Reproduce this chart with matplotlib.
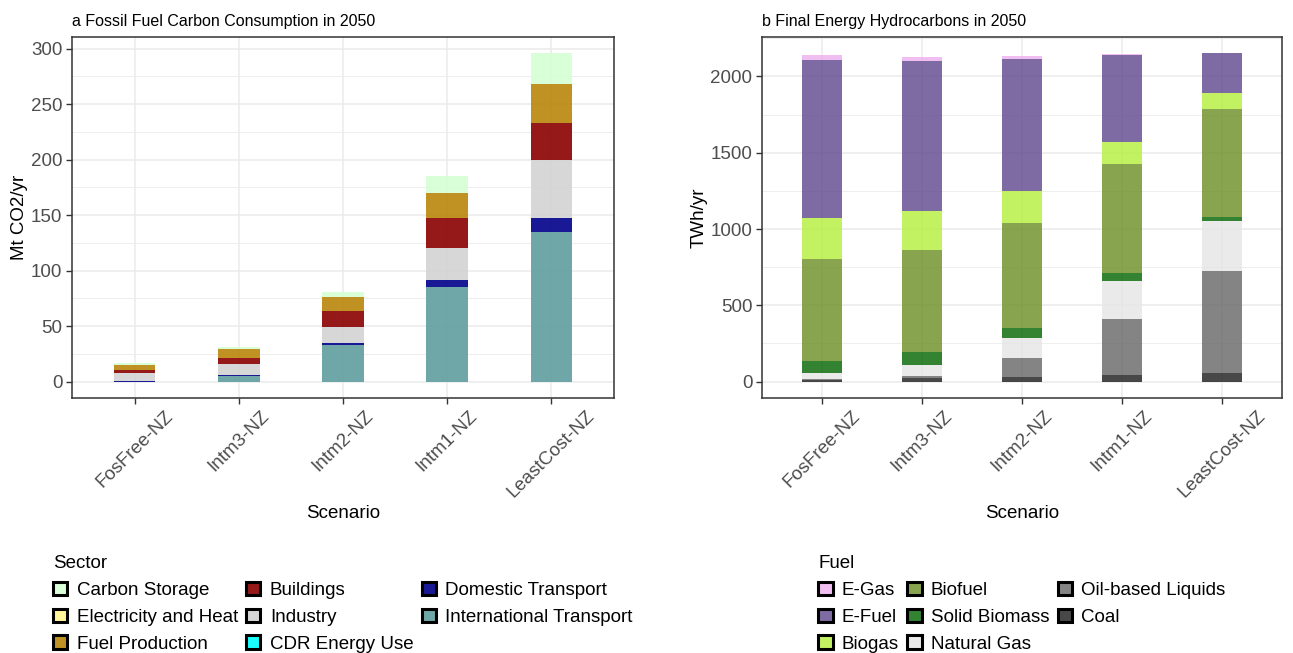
import matplotlib
matplotlib.use('Agg')
import matplotlib.pyplot as plt
from matplotlib.patches import Patch
from matplotlib.ticker import MultipleLocator

plt.rcParams['font.family'] = ['Liberation Sans', 'DejaVu Sans']

scenarios = ['FosFree-NZ', 'Intm3-NZ', 'Intm2-NZ', 'Intm1-NZ', 'LeastCost-NZ']

# panel a: fossil carbon by sector (Mt CO2/yr), legend order = top of stack first
sectors = ['Carbon Storage', 'Electricity and Heat', 'Fuel Production', 'Buildings',
           'Industry', 'CDR Energy Use', 'Domestic Transport', 'International Transport']
carbon_storage = [1.2, 2.0, 4.6, 14.9, 27.5]
elec_heat = [0.3, 0.6, 0.3, 0.2, 0.3]
fuel_production = [5.1, 7.7, 12.7, 22.9, 34.8]
buildings = [2.7, 5.6, 14.5, 26.3, 33.2]
industry = [6.5, 10.0, 14.5, 29.3, 52.3]
cdr_energy = [0.0, 0.0, 0.0, 0.0, 0.0]
domestic_transport = [0.8, 0.4, 1.2, 6.0, 12.7]
international_transport = [0.0, 5.3, 33.2, 85.5, 135.0]
sector_colors = ['#d4ffd4', '#fff68f', '#b8860b', '#8b0000',
                 '#d3d3d3', '#00ffff', '#00008b', '#5f9ea0']

# panel b: final energy hydrocarbons by fuel (TWh/yr)
fuels = ['E-Gas', 'E-Fuel', 'Biogas', 'Biofuel', 'Solid Biomass',
         'Natural Gas', 'Oil-based Liquids', 'Coal']
e_gas = [31, 24, 18, 7, 0]
e_fuel = [1033, 985, 864, 568, 258]
biogas = [271, 256, 213, 147, 108]
biofuel = [665, 671, 686, 708, 706]
solid_biomass = [81, 79, 64, 53, 24]
natural_gas = [39, 75, 134, 254, 333]
oil_liquids = [10, 15, 125, 362, 667]
coal = [8, 22, 28, 46, 55]
fuel_colors = ['#eeaeee', '#5e468e', '#b3ee3a', '#6b8e23',
               '#006400', '#e5e5e5', '#666666', '#1a1a1a']

FS = 13.5
W, H = 1293, 653


def stacked_panel(ax, names, series, colors, alpha, ylabel, title, major, minor, legend_title):
    x = list(range(1, len(scenarios) + 1))
    bottom = [0.0] * len(x)
    # stack from the last legend entry upwards
    for name, vals, col in reversed(list(zip(names, series, colors))):
        ax.bar(x, vals, width=0.4, bottom=bottom, color=col, alpha=alpha,
               linewidth=0, zorder=2)
        bottom = [b + v for b, v in zip(bottom, vals)]
    top = max(bottom)
    ax.set_ylim(-0.05 * top, 1.05 * top)
    ax.set_xlim(0.4, len(x) + 0.6)
    ax.set_xticks(x)
    ax.set_xticklabels(scenarios, rotation=45, ha='center', va='top')
    ax.yaxis.set_major_locator(MultipleLocator(major))
    ax.yaxis.set_minor_locator(MultipleLocator(minor))
    ax.grid(which='major', color='#ebebeb', linewidth=1.1, zorder=0)
    ax.grid(which='minor', axis='y', color='#ebebeb', linewidth=0.6, zorder=0)
    ax.set_axisbelow(True)
    ax.tick_params(which='major', direction='out', length=4, width=1.0,
                   color='#333333', labelsize=FS, labelcolor='#4d4d4d', pad=3)
    ax.tick_params(which='minor', length=0)
    for s in ax.spines.values():
        s.set_color('#333333')
        s.set_linewidth(1.1)
    ax.set_xlabel('Scenario', fontsize=FS, labelpad=3)
    ax.set_ylabel(ylabel, fontsize=FS, labelpad=2)
    ax.set_title(title, loc='left', fontsize=11.5, pad=8)

    handles = [Patch(facecolor=c, edgecolor='black', linewidth=2.2, label=n)
               for n, c in zip(names, colors)]
    for h in handles:
        fc = h.get_facecolor()
        h.set_facecolor((fc[0], fc[1], fc[2], alpha))
    pos = ax.get_position()
    leg = ax.legend(handles=handles, ncol=3, title=legend_title, fontsize=FS,
                    title_fontsize=FS, alignment='left', frameon=False,
                    loc='upper center',
                    bbox_to_anchor=(pos.x0 + pos.width / 2, 1 - 546 / H),
                    bbox_transform=ax.figure.transFigure,
                    handlelength=0.75, handleheight=0.75, handletextpad=0.5,
                    columnspacing=0.45, labelspacing=0.5, borderpad=0)
    return leg


fig = plt.figure(figsize=(W / 100, H / 100), dpi=100)
ax1 = fig.add_axes([72 / W, 1 - 398 / H, 542 / W, 361 / H])
ax2 = fig.add_axes([762 / W, 1 - 398 / H, 520 / W, 361 / H])

stacked_panel(ax1, sectors,
              [carbon_storage, elec_heat, fuel_production, buildings, industry,
               cdr_energy, domestic_transport, international_transport],
              sector_colors, 0.9, 'Mt CO2/yr',
              'a Fossil Fuel Carbon Consumption in 2050', 50, 25, 'Sector')
stacked_panel(ax2, fuels,
              [e_gas, e_fuel, biogas, biofuel, solid_biomass, natural_gas,
               oil_liquids, coal],
              fuel_colors, 0.8, 'TWh/yr',
              'b Final Energy Hydrocarbons in 2050', 500, 250, 'Fuel')

fig.savefig('out.png', dpi=100)
